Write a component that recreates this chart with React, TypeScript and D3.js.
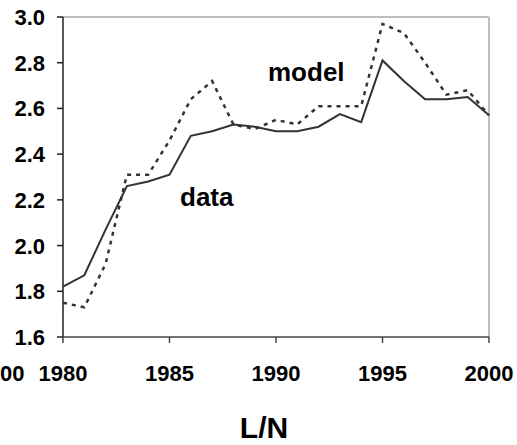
import React from 'react';
import * as d3 from 'd3';

// years on the x axis
const years = d3.range(1980, 2001);
// observed L/N
const dataValues = [1.82, 1.87, 2.07, 2.26, 2.28, 2.31, 2.48, 2.5, 2.53, 2.52, 2.5, 2.5, 2.52, 2.575, 2.54, 2.81, 2.72, 2.64, 2.64, 2.65, 2.57];
// model L/N
const modelValues = [1.75, 1.73, 1.92, 2.31, 2.31, 2.46, 2.64, 2.72, 2.53, 2.51, 2.55, 2.53, 2.61, 2.61, 2.61, 2.97, 2.93, 2.8, 2.66, 2.68, 2.57];
const xTicks = [1980, 1985, 1990, 1995, 2000];
const yTicks = [1.6, 1.8, 2.0, 2.2, 2.4, 2.6, 2.8, 3.0];

const WIDTH = 517;
const HEIGHT = 445;
const plot = { left: 63, right: 489, top: 17, bottom: 337 };
const FONT = 'Liberation Sans, Arial, sans-serif';

export default function App() {
  const x = d3.scaleLinear().domain([1980, 2000]).range([plot.left, plot.right]);
  const y = d3.scaleLinear().domain([1.6, 3.0]).range([plot.bottom, plot.top]);

  const line = d3.line<number>()
    .x((_, i) => x(years[i]))
    .y(d => y(d));

  return (
    <svg width={WIDTH} height={HEIGHT}
      style={{ position: 'absolute', left: 0, top: 0, background: '#fff', fontFamily: FONT }}>
      {/* frame: light top/right, dark left/bottom */}
      <line x1={plot.left} y1={plot.top} x2={plot.right} y2={plot.top} stroke="#a8a8a8" strokeWidth={1.5} />
      <line x1={plot.right} y1={plot.top} x2={plot.right} y2={plot.bottom} stroke="#a8a8a8" strokeWidth={1.5} />
      <line x1={plot.left} y1={plot.top} x2={plot.left} y2={plot.bottom} stroke="#222" strokeWidth={1.5} />
      <line x1={plot.left} y1={plot.bottom} x2={plot.right} y2={plot.bottom} stroke="#444" strokeWidth={1.5} />

      {yTicks.map(t => (
        <g key={`y${t}`}>
          <line x1={plot.left - 6} x2={plot.left} y1={y(t)} y2={y(t)} stroke="#222" strokeWidth={1.5} />
          <text x={45} y={y(t) + 8} textAnchor="end" fontSize={22} fontWeight="bold" fill="#000">
            {t.toFixed(1)}
          </text>
        </g>
      ))}

      {xTicks.map(t => (
        <g key={`x${t}`}>
          <line x1={x(t)} x2={x(t)} y1={plot.bottom} y2={plot.bottom + 6} stroke="#444" strokeWidth={1.5} />
          <text x={x(t)} y={381} textAnchor="middle" fontSize={22} fontWeight="bold" fill="#000">
            {t}
          </text>
        </g>
      ))}
      {/* tail of a label from the neighbouring panel */}
      <text x={0} y={381} fontSize={22} fontWeight="bold" fill="#000">00</text>

      <path d={line(modelValues) || ''} fill="none" stroke="#333" strokeWidth={2.5} strokeDasharray="4 5" />
      <path d={line(dataValues) || ''} fill="none" stroke="#333" strokeWidth={2} />

      <text x={268} y={81} fontSize={26} fontWeight="bold" fill="#000">model</text>
      <text x={180} y={206} fontSize={26} fontWeight="bold" fill="#000">data</text>

      <text x={264} y={438} textAnchor="middle" fontSize={30} fontWeight="bold" fill="#000">L/N</text>
    </svg>
  );
}
